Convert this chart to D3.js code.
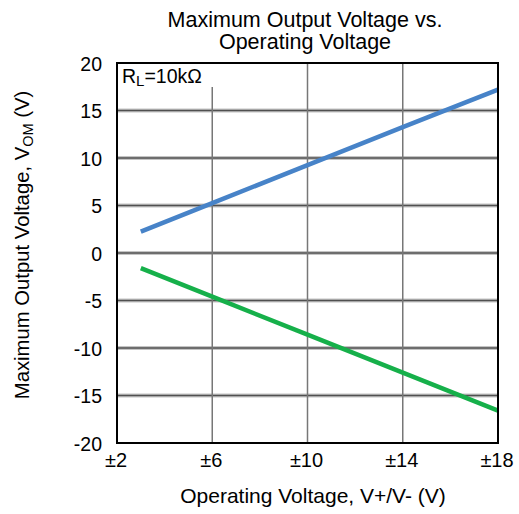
<!DOCTYPE html>
<html><head><meta charset="utf-8">
<script src="https://cdn.jsdelivr.net/npm/d3@7"></script>
<style>body{margin:0;background:#fff}svg{display:block;font-family:Arial,"Liberation Sans",sans-serif}</style>
</head><body>
<svg id="c" width="519" height="514"></svg>
<script>
const supply = [3, 6, 10, 14, 18];
const vomPos = [2.25, 5.25, 9.25, 13.25, 17.2];
const vomNeg = [-1.6, -4.6, -8.6, -12.6, -16.6];
const xTicks = [2, 6, 10, 14, 18];
const xTickLabels = ["±2", "±6", "±10", "±14", "±18"];
const yTicks = [20, 15, 10, 5, 0, -5, -10, -15, -20];
const titleLines = ["Maximum Output Voltage vs.", "Operating Voltage"];

const svg = d3.select("#c");
const L = 117, R = 498, T = 63, B = 443;
const x = d3.scaleLinear().domain([2, 18]).range([L, R]);
const y = d3.scaleLinear().domain([-20, 20]).range([B, T]);

// horizontal grid (thick soft grey)
const hg = svg.append("g");
yTicks.filter(v => v > -20 && v < 20).forEach(v => {
  hg.append("line").attr("x1", L).attr("x2", R).attr("y1", y(v)).attr("y2", y(v))
    .attr("stroke", "#c4c4c4").attr("stroke-width", 4);
  hg.append("line").attr("x1", L).attr("x2", R).attr("y1", y(v)).attr("y2", y(v))
    .attr("stroke", "#505050").attr("stroke-width", 1.6);
});
// vertical grid
xTicks.filter(v => v > 2 && v < 18).forEach(v => {
  svg.append("line").attr("x1", x(v)).attr("x2", x(v)).attr("y1", T).attr("y2", B)
    .attr("stroke", "#777").attr("stroke-width", 1.5);
});

// label with white background
const lbl = svg.append("g");
lbl.append("rect").attr("x", L + 1).attr("y", T + 1).attr("width", 97).attr("height", 23).attr("fill", "#fff");
const lt = lbl.append("text").attr("x", L + 5).attr("y", T + 20).attr("font-size", 19.5).attr("fill", "#000");
lt.append("tspan").text("R");
lt.append("tspan").attr("font-size", 15).attr("dy", 3).text("L");
lt.append("tspan").attr("dy", -3).text("=10kΩ");

// lines
const line = d3.line().x((d, i) => x(supply[i])).y(d => y(d));
svg.append("path").datum(vomPos).attr("d", line).attr("fill", "none")
  .attr("stroke", "#4783c8").attr("stroke-width", 4.5).attr("stroke-linecap", "butt");
svg.append("path").datum(vomNeg).attr("d", line).attr("fill", "none")
  .attr("stroke", "#16b04a").attr("stroke-width", 4.5).attr("stroke-linecap", "butt");

// frame
svg.append("rect").attr("x", L).attr("y", T).attr("width", R - L).attr("height", B - T)
  .attr("fill", "none").attr("stroke", "#000").attr("stroke-width", 2);

// axes tick labels
svg.append("g").selectAll("text").data(yTicks).join("text")
  .attr("x", L - 15).attr("y", d => y(d) + 7.5).attr("text-anchor", "end")
  .attr("font-size", 19.5).text(d => d);
svg.append("g").selectAll("text").data(xTicks).join("text")
  .attr("x", d => x(d) - 1).attr("y", B + 24).attr("text-anchor", "middle")
  .attr("font-size", 20).text((d, i) => xTickLabels[i]);

// title
svg.append("g").selectAll("text").data(titleLines).join("text")
  .attr("x", 305).attr("y", (d, i) => 27 + i * 22).attr("text-anchor", "middle")
  .attr("font-size", 21.5).text(d => d);

// axis titles
svg.append("text").attr("x", 313).attr("y", 503).attr("text-anchor", "middle")
  .attr("font-size", 21).text("Operating Voltage, V+/V- (V)");
const yt = svg.append("text").attr("transform", "translate(29,245) rotate(-90)")
  .attr("text-anchor", "middle").attr("font-size", 20.3);
yt.append("tspan").text("Maximum Output Voltage, V");
yt.append("tspan").attr("font-size", 14.5).attr("dy", 4).text("OM");
yt.append("tspan").attr("dy", -4).text(" (V)");
</script>
</body></html>
